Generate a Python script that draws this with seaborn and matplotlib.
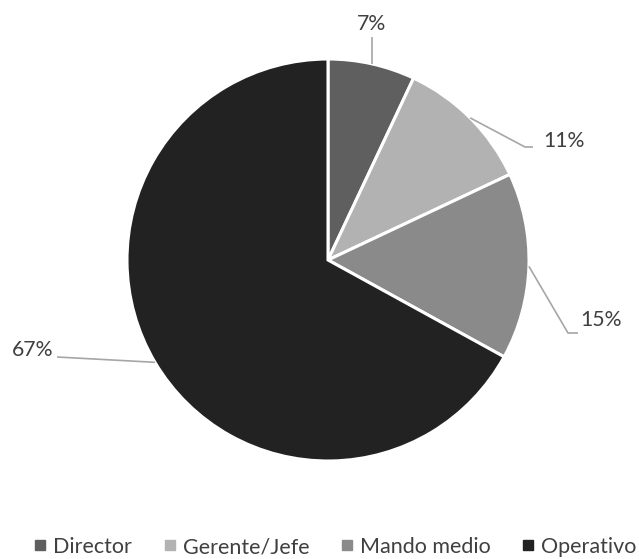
import matplotlib
matplotlib.use("Agg")
import matplotlib.pyplot as plt
from matplotlib.lines import Line2D
import numpy as np
import seaborn as sns

# Distribution by position level
categories = ["Director", "Gerente/Jefe", "Mando medio", "Operativo"]
shares = [7, 11, 15, 67]
colors = ["#5f5f5f", "#b2b2b2", "#8a8a8a", "#222222"]

sns.set_theme(style="white")
plt.rcParams["font.family"] = ["Lato", "DejaVu Sans"]

TEXT = "#404040"
LINE = "#a6a6a6"
W, H = 639, 559

fig = plt.figure(figsize=(W / 100, H / 100), dpi=100)
# axes spans exactly the pie's bounding box
cx, cy, r = 328, 260, 201
ax = fig.add_axes([(cx - r) / W, (H - cy - r) / H, 2 * r / W, 2 * r / H])
wedges, _ = ax.pie(shares, colors=colors, startangle=90, counterclock=False,
                   radius=1, wedgeprops=dict(edgecolor="white", linewidth=2.2))
ax.set_xlim(-1, 1)
ax.set_ylim(-1, 1)
ax.set_aspect("equal")
ax.axis("off")


def px(x, y):
    return ((x - cx) / r, (cy - y) / r)


# leader line bend points and label anchors (pixel layout)
label_layout = [
    dict(path=[], text=(372, 24), ha="center"),
    dict(path=[(525, 147), (533, 147)], text=(543, 141), ha="left"),
    dict(path=[(568, 333), (578, 333)], text=(580, 320), ha="left"),
    dict(path=[(57, 357)], text=(53, 350), ha="right"),
]

for w, val, lay in zip(wedges, shares, label_layout):
    mid = np.deg2rad((w.theta1 + w.theta2) / 2)
    x0, y0 = np.cos(mid), np.sin(mid)
    pts = [(x0, y0)] + [px(*p) for p in lay["path"]]
    if not lay["path"]:
        pts.append((x0, px(0, 37)[1]))
    xs, ys = zip(*pts)
    ax.plot(xs, ys, color=LINE, lw=1.2, clip_on=False, solid_capstyle="butt")
    tx, ty = px(*lay["text"])
    ax.text(tx, ty, f"{val}%", ha=lay["ha"], va="center", fontsize=15.3,
            color=TEXT, clip_on=False)

handles = [Line2D([], [], marker="s", linestyle="none", markersize=6.5,
                  markerfacecolor=c, markeredgecolor=c) for c in colors]
fig.legend(handles, categories, loc="center", bbox_to_anchor=(334 / W, 1 - 547 / H),
           ncol=4, frameon=False, fontsize=15.5, labelcolor=TEXT,
           handletextpad=0.2, columnspacing=1.35, handlelength=0.8)

fig.savefig("out.png", dpi=100, facecolor="white")
